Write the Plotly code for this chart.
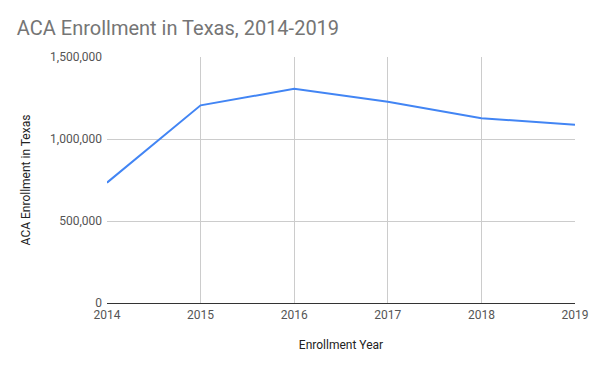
import plotly.graph_objects as go

years = [2014, 2015, 2016, 2017, 2018, 2019]
enrollment = [733757, 1205174, 1306208, 1227290, 1126838, 1087240]
y_ticks = [0, 500000, 1000000, 1500000]
y_tick_labels = ["0", "500,000", "1,000,000", "1,500,000"]

fig = go.Figure()
fig.add_trace(go.Scatter(
    x=years, y=enrollment, mode="lines",
    line=dict(color="#4285F4", width=2),
    hoverinfo="x+y",
))

fig.update_layout(
    width=600, height=371,
    margin=dict(l=107, r=19, t=57, b=68),
    paper_bgcolor="white", plot_bgcolor="white",
    font=dict(family="Roboto, Arial, sans-serif", size=12, color="#444444"),
    title=dict(text="ACA Enrollment in Texas, 2014-2019",
               x=0.028, xanchor="left", y=0.925, yanchor="middle",
               font=dict(size=20, color="#757575")),
    showlegend=False,
    xaxis=dict(
        range=[2014, 2019], tickvals=years, ticktext=[str(y) for y in years],
        showgrid=True, gridcolor="#cccccc", gridwidth=1,
        showline=False, zeroline=False, ticks="",
        ticklabelstandoff=3,
        tickfont=dict(size=12, color="#555555"),
        title=dict(text="Enrollment Year", font=dict(size=12, color="#222222"), standoff=19),
    ),
    yaxis=dict(
        range=[0, 1500000], tickvals=y_ticks, ticktext=y_tick_labels,
        showgrid=True, gridcolor="#cccccc", gridwidth=1,
        zeroline=True, zerolinecolor="#333333", zerolinewidth=1,
        ticks="", ticklabelstandoff=4,
        tickfont=dict(size=12, color="#555555"),
        title=dict(text="ACA Enrollment in Texas", font=dict(size=12, color="#222222"), standoff=16),
    ),
)

fig.write_html(
    "out.html",
    config={"displayModeBar": False},
    post_script="document.body.style.margin='0';document.body.style.overflow='hidden';",
)
